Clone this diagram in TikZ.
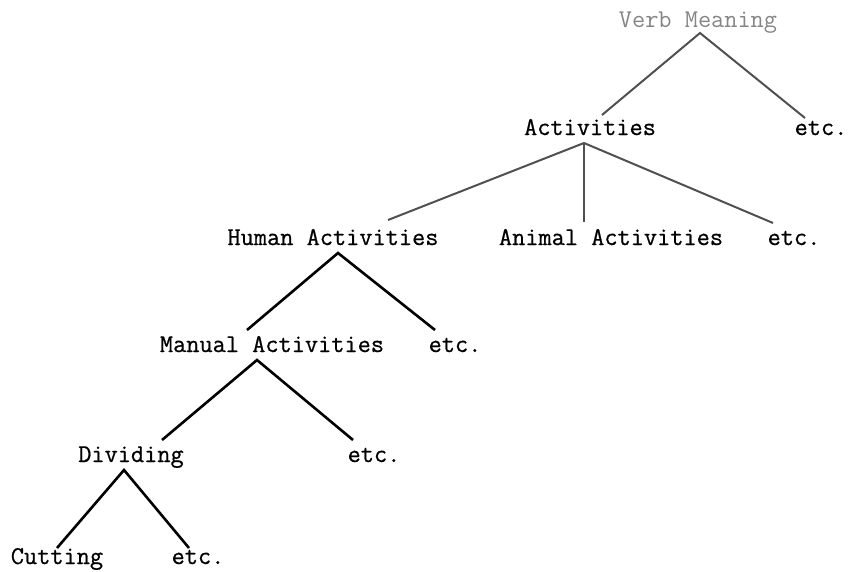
\documentclass[tikz,border=0pt]{standalone}
\usepackage{fontspec}
\setmonofont{Latin Modern Mono}[FakeBold=0.7]
\newfontfamily\thinmono{Latin Modern Mono}
\definecolor{greytext}{HTML}{858585}
\definecolor{greyline}{HTML}{505050}
\begin{document}
\begin{tikzpicture}[x=1pt,y=-1pt,
  lbl/.style={font=\ttfamily\fontsize{25.6}{27}\selectfont, inner sep=0pt, anchor=base, text=black},
  greylbl/.style={lbl, font=\thinmono\fontsize{25.6}{27}\selectfont, text=greytext},
  upper/.style={draw=greyline, line width=2pt},
  lower/.style={draw=black, line width=2.6pt}]
\useasboundingbox (0,0) rectangle (848,571);
% labels
\node[greylbl] (vm) at (698,27) {Verb Meaning};
\node[lbl] (act) at (590,135) {Activities};
\node[lbl] (etc1) at (821,135) {etc.};
\node[lbl] (hum) at (333,245) {Human Activities};
\node[lbl] (ani) at (611,245) {Animal Activities};
\node[lbl] (etc2) at (794,245) {etc.};
\node[lbl] (man) at (272,352) {Manual Activities};
\node[lbl] (etc3) at (455,352) {etc.};
\node[lbl] (div) at (131,462) {Dividing};
\node[lbl] (etc4) at (374,462) {etc.};
\node[lbl] (cut) at (57,564) {Cutting};
\node[lbl] (etc5) at (198,564) {etc.};
% connector ends
\coordinate (vmB) at (700,33);
\coordinate (actT) at (602,115);
\coordinate (etc1T) at (805,118);
\coordinate (actB) at (584,143);
\coordinate (humT) at (388,220);
\coordinate (aniT) at (584,222);
\coordinate (etc2T) at (773,223);
\coordinate (humB) at (338,253);
\coordinate (manT) at (247,330);
\coordinate (etc3T) at (435,330);
\coordinate (manB) at (257,360);
\coordinate (divT) at (162,440);
\coordinate (etc4T) at (353,440);
\coordinate (divB) at (124,470);
\coordinate (cutT) at (57,548);
\coordinate (etc5T) at (189,548);
% connectors
\draw[upper] (actT) -- (vmB) -- (etc1T);
\draw[upper] (actB) -- (humT);
\draw[upper] (actB) -- (aniT);
\draw[upper] (actB) -- (etc2T);
\draw[lower] (manT) -- (humB) -- (etc3T);
\draw[lower] (divT) -- (manB) -- (etc4T);
\draw[lower] (cutT) -- (divB) -- (etc5T);
\end{tikzpicture}
\end{document}
